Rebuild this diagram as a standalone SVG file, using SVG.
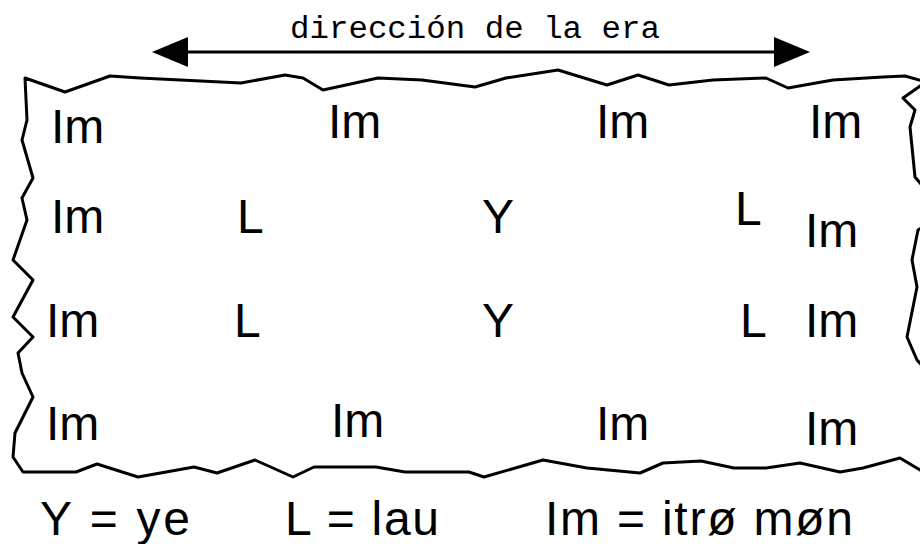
<svg xmlns="http://www.w3.org/2000/svg" width="920" height="544" viewBox="0 0 920 544">
<style>
.lbl{font-family:"Liberation Sans",Arial,sans-serif;font-size:48px;fill:#000}
.top{font-family:"Liberation Mono","Courier New",monospace;font-size:31px;fill:#000}
.edge{fill:none;stroke:#000;stroke-width:3;stroke-linejoin:round}
</style>
<defs>
<marker id="ah" viewBox="0 0 36 30" refX="0" refY="15" markerWidth="36" markerHeight="30" markerUnits="userSpaceOnUse" orient="auto-start-reverse">
<path d="M0,0 L36,15 L0,30 Z" fill="#000"/>
</marker>
</defs>
<rect width="920" height="544" fill="#fff"/>
<g id="connectors">
<line x1="188" y1="52" x2="774" y2="52" stroke="#000" stroke-width="3" marker-start="url(#ah)" marker-end="url(#ah)"/>
</g>
<text id="dir-label" class="top" x="475" y="38" text-anchor="middle" textLength="370" lengthAdjust="spacingAndGlyphs">dirección de la era</text>
<g id="era-box">
<path class="edge" d="M25,78 L65,92 L110,76 L140,78 L241,83 L285,75 L303,78 L323,90 L378,78 L422,80 L475,87 L506,78 L558,70 L607,85 L638,75 L669,85 L713,80 L766,78 L788,88 L833,80 L883,77 L905,76 L926,82 L903,98 L915,110 L910,127 L915,177 L926,190 L926,225 L918,230 L912,260 L917,287 L907,337 L917,360 L926,370 L926,462 L920,470 L900,458 L863,468 L840,472 L800,463 L766,468 L734,468 L701,461 L663,463 L640,473 L587,468 L543,460 L484,477 L469,472 L405,472 L376,467 L314,467 L293,477 L255,460 L217,473 L194,467 L138,477 L97,464 L76,472 L23,472 L13,457 L15,433 L33,397 L22,373 L18,353 L33,337 L13,317 L33,280 L13,260 L27,220 L22,198 L33,178 L22,140 L27,120 Z"/>
</g>
<g id="r1c1"><text class="lbl" x="51" y="143">Im</text></g>
<g id="r1c2"><text class="lbl" x="328" y="138">Im</text></g>
<g id="r1c3"><text class="lbl" x="596" y="138">Im</text></g>
<g id="r1c4"><text class="lbl" x="809" y="138">Im</text></g>
<g id="r2c1"><text class="lbl" x="51" y="233">Im</text></g>
<g id="r2c2"><text class="lbl" x="237" y="233">L</text></g>
<g id="r2c3"><text class="lbl" x="482" y="233">Y</text></g>
<g id="r2c4"><text class="lbl" x="735" y="225">L</text></g>
<g id="r2c5"><text class="lbl" x="805" y="247">Im</text></g>
<g id="r3c1"><text class="lbl" x="46" y="337">Im</text></g>
<g id="r3c2"><text class="lbl" x="234" y="337">L</text></g>
<g id="r3c3"><text class="lbl" x="482" y="337">Y</text></g>
<g id="r3c4"><text class="lbl" x="740" y="337">L</text></g>
<g id="r3c5"><text class="lbl" x="805" y="337">Im</text></g>
<g id="r4c1"><text class="lbl" x="46" y="440">Im</text></g>
<g id="r4c2"><text class="lbl" x="331" y="437">Im</text></g>
<g id="r4c3"><text class="lbl" x="596" y="440">Im</text></g>
<g id="r4c4"><text class="lbl" x="805" y="445">Im</text></g>
<g id="legend">
<text class="lbl" x="40" y="535" textLength="150" lengthAdjust="spacing">Y = ye</text>
<text class="lbl" x="285" y="535" textLength="154" lengthAdjust="spacing">L = lau</text>
<text class="lbl" x="545" y="535" textLength="308" lengthAdjust="spacing">Im = itrø møn</text>
</g>
</svg>
